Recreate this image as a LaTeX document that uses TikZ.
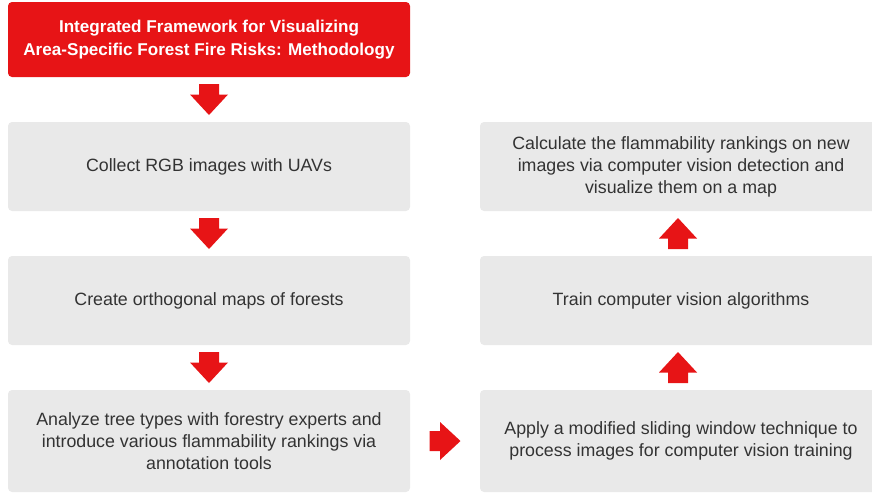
\documentclass[tikz,border=0pt]{standalone}
\usepackage{fontspec}
\setmainfont{Liberation Sans}
\usetikzlibrary{calc}
\definecolor{fred}{HTML}{E71416}
\definecolor{fgray}{HTML}{E9E9E9}
\definecolor{ftext}{HTML}{333333}
\tikzset{
  titlebox/.style={fill=fred, rounded corners=4pt, minimum width=402pt, minimum height=75pt, inner sep=0pt, align=center, text=white, font=\fontsize{17.1}{23}\selectfont\bfseries},
  graybox/.style={fill=fgray, rounded corners=4pt, minimum width=402pt, minimum height=89pt, inner sep=0pt, align=center, text=ftext, font=\fontsize{17.8}{22}\selectfont},
  tallbox/.style={graybox, minimum height=102pt},
  blockarrow/.pic={\fill[fred] (-10,-15.5) -- (10,-15.5) -- (10,-5) -- (19,-5) -- (0,15.5) -- (-19,-5) -- (-10,-5) -- cycle;}
}
\begin{document}
\begin{tikzpicture}[x=1pt,y=-1pt]
\useasboundingbox (0,0) rectangle (872,493);
\node[titlebox] (t) at (209,39.5) {Integrated Framework for Visualizing\\Area-Specific Forest Fire Risks: Methodology};
\node[graybox] (a) at (209,166.5) {Collect RGB images with UAVs};
\node[graybox] (b) at (209,300.5) {Create orthogonal maps of forests};
\node[tallbox] (c) at (209,441) {Analyze tree types with forestry experts and\\introduce various flammability rankings via\\annotation tools};
\node[tallbox] (d) at (681,441) {Apply a modified sliding window technique to\\process images for computer vision training};
\node[graybox] (e) at (681,300.5) {Train computer vision algorithms};
\node[graybox] (f) at (681,166.5) {Calculate the flammability rankings on new\\images via computer vision detection and\\visualize them on a map};
% block arrows between nodes
\path ($(t.south)!0.5!(a.north)$) pic {blockarrow};
\path ($(a.south)!0.5!(b.north)$) pic {blockarrow};
\path ($(b.south)!0.5!(c.north)$) pic {blockarrow};
\path ($(c.east)!0.5!(d.west)$) pic[rotate=90] {blockarrow};
\path ($(d.north)!0.5!(e.south)$) ++(-3,0) pic[rotate=180] {blockarrow};
\path ($(e.north)!0.5!(f.south)$) ++(-3,0) pic[rotate=180] {blockarrow};
\end{tikzpicture}
\end{document}
